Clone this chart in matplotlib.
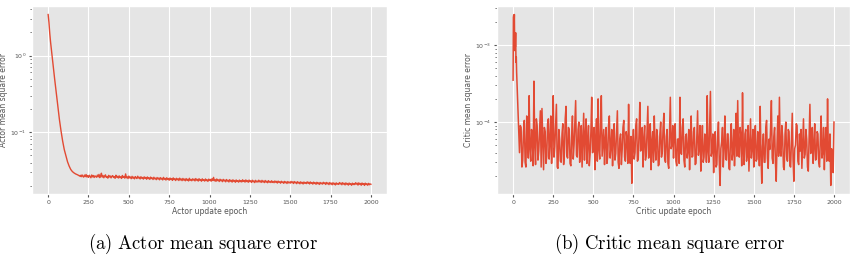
import numpy as np
import matplotlib
matplotlib.use("Agg")
import matplotlib.pyplot as plt

plt.style.use("ggplot")
plt.rcParams["mathtext.fontset"] = "cm"

# actor MSE: fast decay then slow plateau
actor_epochs_head = [0, 5, 10, 15, 20, 30, 40, 50, 60, 70, 80, 90, 100,
                     110, 120, 130, 140, 150, 160, 170, 180, 190, 195]
actor_head = [3.43, 2.70, 1.95, 1.50, 1.20, 0.78, 0.50, 0.33, 0.22, 0.145,
              0.103, 0.076, 0.059, 0.049, 0.041, 0.036, 0.0325, 0.0305,
              0.0293, 0.0284, 0.0278, 0.0271, 0.0266]
# epochs 200..2000, every 5
actor_tail = [
    0.0272, 0.0261, 0.0276, 0.0264, 0.0258, 0.0274, 0.0262, 0.0279, 0.0259, 0.0270,
    0.0256, 0.0273, 0.0263, 0.0253, 0.0275, 0.0260, 0.0271, 0.0255, 0.0268, 0.0262,
    0.0257, 0.0274, 0.0260, 0.0280, 0.0254, 0.0268, 0.0290, 0.0258, 0.0271, 0.0253,
    0.0266, 0.0276, 0.0256, 0.0263, 0.0250, 0.0272, 0.0259, 0.0267, 0.0252, 0.0265,
    0.0270, 0.0255, 0.0262, 0.0249, 0.0273, 0.0257, 0.0264, 0.0251, 0.0268, 0.0254,
    0.0260, 0.0248, 0.0271, 0.0256, 0.0263, 0.0250, 0.0284, 0.0253, 0.0261, 0.0247,
    0.0266, 0.0252, 0.0259, 0.0246, 0.0264, 0.0250, 0.0258, 0.0245, 0.0262, 0.0253,
    0.0247, 0.0265, 0.0251, 0.0257, 0.0244, 0.0261, 0.0249, 0.0255, 0.0243, 0.0260,
    0.0248, 0.0256, 0.0242, 0.0259, 0.0246, 0.0253, 0.0241, 0.0258, 0.0247, 0.0252,
    0.0240, 0.0257, 0.0245, 0.0250, 0.0239, 0.0255, 0.0244, 0.0251, 0.0238, 0.0254,
    0.0243, 0.0250, 0.0237, 0.0256, 0.0242, 0.0248, 0.0236, 0.0253, 0.0241, 0.0247,
    0.0235, 0.0251, 0.0240, 0.0246, 0.0234, 0.0252, 0.0239, 0.0245, 0.0233, 0.0249,
    0.0238, 0.0246, 0.0233, 0.0250, 0.0237, 0.0244, 0.0232, 0.0248, 0.0236, 0.0243,
    0.0231, 0.0247, 0.0235, 0.0242, 0.0230, 0.0249, 0.0234, 0.0241, 0.0231, 0.0245,
    0.0236, 0.0243, 0.0230, 0.0247, 0.0235, 0.0241, 0.0229, 0.0246, 0.0234, 0.0240,
    0.0228, 0.0245, 0.0233, 0.0239, 0.0229, 0.0244, 0.0232, 0.0238, 0.0227, 0.0243,
    0.0234, 0.0241, 0.0228, 0.0245, 0.0233, 0.0256, 0.0231, 0.0240, 0.0227, 0.0244,
    0.0232, 0.0238, 0.0226, 0.0242, 0.0231, 0.0237, 0.0225, 0.0241, 0.0230, 0.0236,
    0.0224, 0.0240, 0.0229, 0.0235, 0.0223, 0.0239, 0.0228, 0.0234, 0.0222, 0.0238,
    0.0227, 0.0233, 0.0221, 0.0237, 0.0226, 0.0232, 0.0222, 0.0236, 0.0225, 0.0231,
    0.0223, 0.0238, 0.0227, 0.0233, 0.0222, 0.0237, 0.0226, 0.0232, 0.0221, 0.0236,
    0.0225, 0.0231, 0.0220, 0.0235, 0.0224, 0.0230, 0.0219, 0.0234, 0.0223, 0.0229,
    0.0222, 0.0235, 0.0224, 0.0230, 0.0220, 0.0234, 0.0223, 0.0229, 0.0219, 0.0233,
    0.0222, 0.0228, 0.0218, 0.0232, 0.0221, 0.0227, 0.0219, 0.0231, 0.0220, 0.0226,
    0.0218, 0.0230, 0.0221, 0.0227, 0.0216, 0.0229, 0.0220, 0.0225, 0.0215, 0.0228,
    0.0219, 0.0224, 0.0214, 0.0227, 0.0218, 0.0223, 0.0213, 0.0226, 0.0217, 0.0222,
    0.0215, 0.0227, 0.0218, 0.0224, 0.0213, 0.0226, 0.0217, 0.0222, 0.0212, 0.0225,
    0.0216, 0.0221, 0.0211, 0.0224, 0.0215, 0.0220, 0.0210, 0.0223, 0.0214, 0.0219,
    0.0212, 0.0224, 0.0215, 0.0221, 0.0210, 0.0223, 0.0214, 0.0219, 0.0209, 0.0222,
    0.0213, 0.0218, 0.0208, 0.0221, 0.0212, 0.0217, 0.0207, 0.0220, 0.0211, 0.0216,
    0.0209, 0.0221, 0.0212, 0.0218, 0.0207, 0.0220, 0.0211, 0.0216, 0.0206, 0.0219,
    0.0210, 0.0215, 0.0205, 0.0218, 0.0209, 0.0214, 0.0204, 0.0217, 0.0208, 0.0213,
    0.0207, 0.0219, 0.0210, 0.0216, 0.0205, 0.0218, 0.0209, 0.0214, 0.0204, 0.0217,
    0.0208, 0.0213, 0.0203, 0.0216, 0.0207, 0.0212, 0.0202, 0.0215, 0.0206, 0.0211,
    0.0206, 0.0218, 0.0209, 0.0215, 0.0203, 0.0217, 0.0208, 0.0213, 0.0202, 0.0216,
    0.0207, 0.0212, 0.0201, 0.0215, 0.0206, 0.0211, 0.0202, 0.0214, 0.0205, 0.0210,
    0.0208,
]
actor_epochs_tail = list(range(200, 2001, 5))

# critic MSE, in units of 1e-5
critic_epochs_head = [0, 2, 4, 6, 8, 10, 12, 14, 16, 18, 20, 22, 25, 28, 31, 34, 37]
critic_head = [35, 230, 245, 180, 250, 85, 140, 95, 145, 60, 70, 45, 30, 21, 14, 9, 6]
# epochs 40..2000, every 5
critic_tail = [
    4.0, 9.0, 8.5, 2.6, 3.2, 7.5, 10.5, 3.0, 2.6, 12.0, 7.0, 3.4,
    22.0, 4.5, 3.1, 8.0, 6.5, 2.7, 34.0, 5.0, 2.8, 11.0, 9.0, 3.2, 4.2, 7.5, 14.0, 2.6, 15.0, 6.0, 2.4, 8.5,
    7.5, 2.9, 3.6, 9.5, 11.0, 3.3, 5.5, 12.0, 2.9, 7.0, 22.0, 3.5, 4.8, 9.0, 17.0, 2.6, 2.5, 8.0, 6.0, 3.1,
    3.0, 7.0, 9.5, 2.8, 4.0, 11.0, 16.0, 3.6, 3.4, 8.5, 8.0, 2.9, 2.7, 6.5, 12.0, 3.3, 5.0, 10.0, 19.0, 3.7,
    3.5, 8.0, 10.0, 3.0, 4.5, 9.0, 2.6, 6.0, 13.0, 3.2, 6.5, 11.0, 2.9, 5.5, 9.0, 2.7, 3.8, 7.5, 21.0, 4.0,
    4.2, 8.5, 2.4, 6.5, 11.0, 3.1, 20.0, 4.4, 3.3, 9.5, 22.0, 3.6, 5.5, 8.0, 2.8, 6.0, 8.5, 2.9, 3.6, 9.0,
    12.0, 3.4, 4.8, 8.0, 2.7, 6.5, 9.5, 3.2, 3.9, 7.5, 14.0, 3.0, 2.5, 6.0, 7.0, 2.8, 4.4, 8.5, 10.5, 3.5,
    3.1, 7.5, 6.0, 2.9, 17.0, 3.8, 2.9, 6.5, 1.6, 5.0, 8.0, 3.3, 4.0, 9.0, 11.0, 3.1, 3.3, 7.0, 18.0, 4.2,
    5.0, 8.5, 2.6, 6.0, 9.0, 3.2, 3.7, 7.5, 16.0, 3.4, 4.5, 9.5, 2.4, 5.5, 7.5, 3.0, 12.0, 4.6, 3.2, 8.0,
    6.5, 2.7, 2.8, 7.0, 10.0, 3.5, 4.1, 8.5, 13.0, 3.3, 3.0, 6.5, 8.0, 2.9, 2.5, 7.0, 21.0, 4.5, 5.0, 9.0,
    3.4, 7.5, 9.5, 3.1, 2.7, 6.0, 6.0, 2.9, 21.0, 4.0, 3.8, 8.5, 11.0, 3.2, 2.6, 6.5, 7.0, 3.4, 4.3, 8.0,
    2.4, 6.0, 12.0, 3.5, 3.6, 7.5, 8.5, 2.8, 2.9, 6.5, 14.0, 3.7, 4.6, 9.0, 2.3, 5.0, 9.0, 3.0, 3.5, 7.0,
    6.0, 3.0, 22.0, 4.2, 3.0, 8.5, 25.0, 3.6, 4.2, 7.0, 2.2, 5.5, 7.5, 2.6, 2.8, 6.5, 10.0, 3.1, 1.5, 4.5,
    5.5, 8.5, 2.6, 5.0, 12.0, 3.3, 3.2, 7.0, 7.0, 2.5, 2.4, 6.0, 9.5, 3.2, 4.0, 8.0, 2.7, 5.5, 13.0, 3.6,
    19.0, 4.0, 3.5, 8.5, 6.5, 2.7, 24.0, 4.4, 2.8, 7.0, 8.0, 3.1, 3.9, 9.0, 2.3, 5.0, 11.0, 3.4, 4.6, 8.0,
    2.6, 6.0, 9.0, 3.1, 3.3, 7.5, 5.5, 2.7, 16.0, 3.9, 1.6, 4.8, 7.0, 3.0, 3.0, 8.5, 10.5, 3.4, 2.5, 6.0,
    4.4, 8.5, 19.0, 3.4, 2.9, 6.5, 8.5, 3.0, 1.7, 5.0, 12.0, 3.6, 21.0, 4.2, 3.6, 9.0, 6.5, 2.6, 2.4, 7.0,
    10.0, 3.5, 3.1, 8.0, 7.5, 2.7, 2.6, 6.0, 13.0, 3.3, 1.7, 4.5, 5.0, 9.5, 9.0, 3.1, 2.8, 7.0, 4.2, 8.0,
    2.5, 5.5, 11.0, 3.4, 3.8, 8.0, 6.0, 2.6, 2.3, 6.5, 17.0, 3.9, 4.5, 8.5, 2.9, 5.0, 9.5, 3.2, 3.3, 7.5,
    7.0, 3.0, 2.6, 6.0, 12.0, 3.4, 4.0, 8.5, 2.4, 5.5, 8.5, 3.1, 20.0, 4.0, 3.1, 7.0, 1.5, 4.5, 3.5, 2.2,
    10.0,
]
critic_epochs_tail = list(range(40, 2001, 5))

actor_x = actor_epochs_head + actor_epochs_tail
actor_y = actor_head + actor_tail
critic_x = critic_epochs_head + critic_epochs_tail
critic_y = np.array(critic_head + critic_tail) * 1e-5

fig = plt.figure(figsize=(8.58, 2.60), dpi=100)
ax1 = fig.add_axes([0.0373, 0.254, 0.4138, 0.723])
ax2 = fig.add_axes([0.5793, 0.254, 0.4114, 0.723])

ax1.plot(actor_x, actor_y, color="#E24A33", lw=1.0)
ax2.plot(critic_x, critic_y, color="#E24A33", lw=1.1)

for ax, xl, yl in [(ax1, "Actor update epoch", "Actor mean square error"),
                   (ax2, "Critic update epoch", "Critic mean square error")]:
    ax.set_yscale("log")
    ax.set_xticks([0, 250, 500, 750, 1000, 1250, 1500, 1750, 2000])
    ax.tick_params(labelsize=4.5, length=2, pad=2)
    ax.tick_params(which="minor", length=1.2)
    ax.set_xlabel(xl, fontsize=5.5, labelpad=1.5)
    ax.set_ylabel(yl, fontsize=5.5, labelpad=2)

fig.text(0.237, 0.062, r"$\mathrm{(a)\ Actor\ mean\ square\ error}$",
         ha="center", va="center", fontsize=13.5)
fig.text(0.78, 0.062, r"$\mathrm{(b)\ Critic\ mean\ square\ error}$",
         ha="center", va="center", fontsize=13.5)

fig.savefig("out.png", dpi=100, facecolor="white")
